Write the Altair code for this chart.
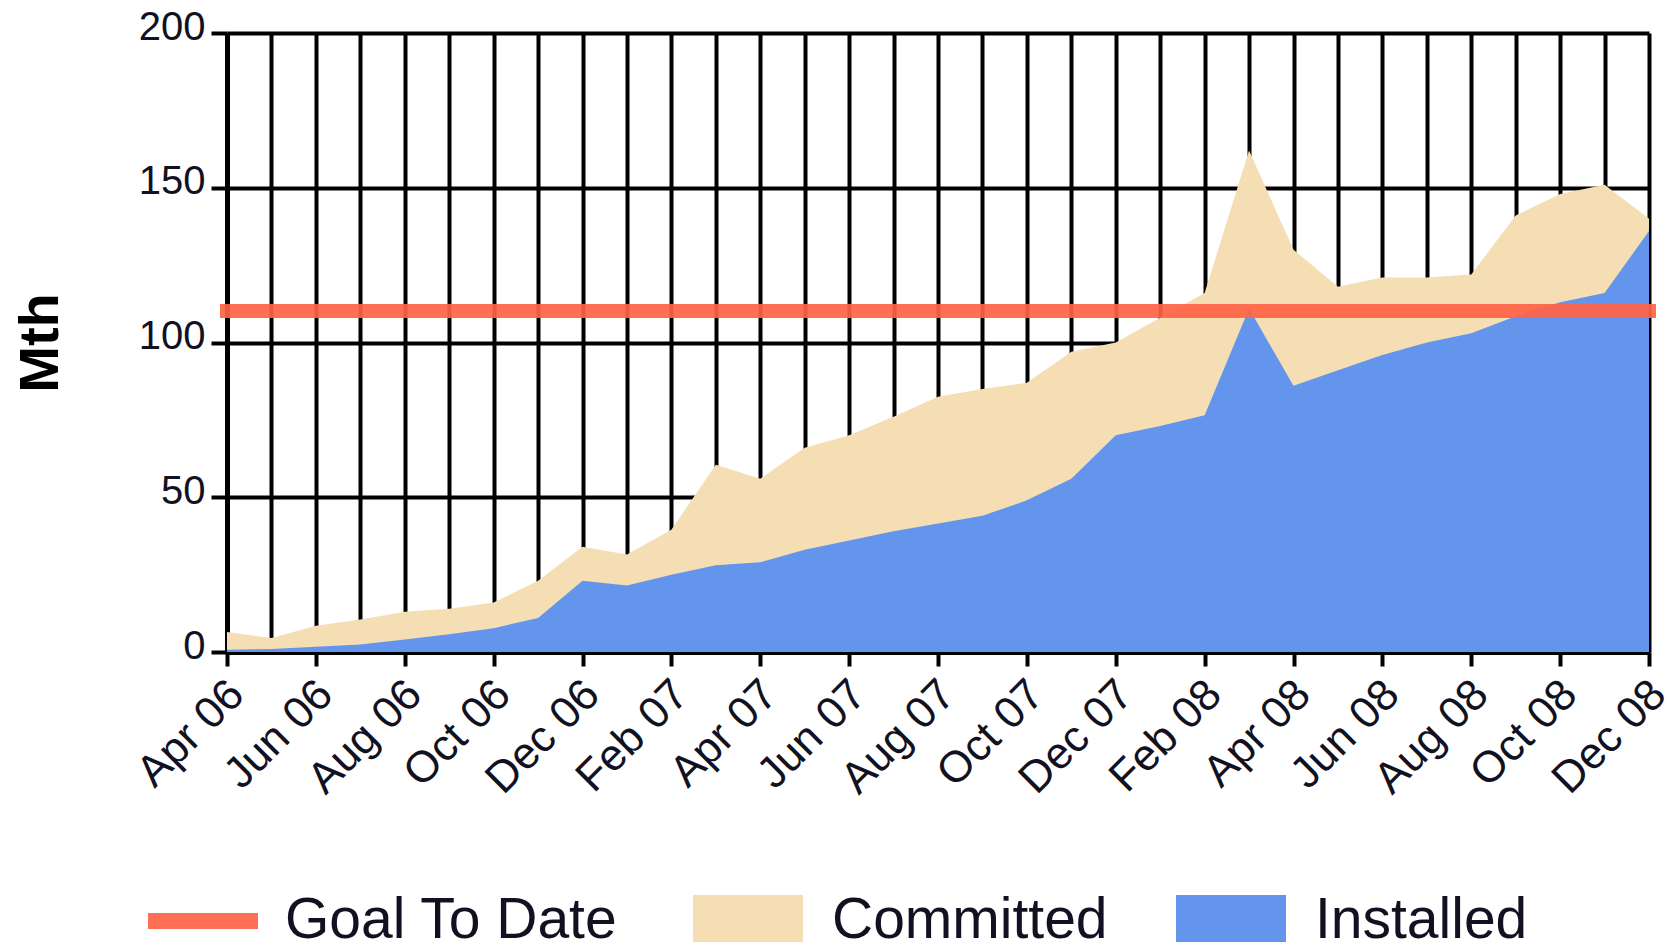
import json
import altair as alt
import pandas as pd

months = ["Apr 06", "May 06", "Jun 06", "Jul 06", "Aug 06", "Sep 06", "Oct 06", "Nov 06",
          "Dec 06", "Jan 07", "Feb 07", "Mar 07", "Apr 07", "May 07", "Jun 07", "Jul 07",
          "Aug 07", "Sep 07", "Oct 07", "Nov 07", "Dec 07", "Jan 08", "Feb 08", "Mar 08",
          "Apr 08", "May 08", "Jun 08", "Jul 08", "Aug 08", "Sep 08", "Oct 08", "Nov 08", "Dec 08"]
committed = [6.5, 4.5, 8.5, 10.5, 13, 14, 16, 23, 34, 31.5, 39.5, 60.5, 56, 66, 70, 76,
             82.5, 85, 87, 97, 100, 108, 116, 162, 130, 118, 121, 121, 122, 141, 148, 151, 140]
installed = [0.7, 1, 1.7, 2.4, 4, 5.7, 7.7, 11, 23, 21.5, 25, 28, 29, 33, 36, 39,
             41.5, 44, 49, 56, 70, 73, 76.5, 111, 86, 91, 96, 100, 103, 108.5, 113, 116, 136]
goal_value = [110.2]
labeled_months = months[::2]
area_series = ["Committed", "Installed"]
goal_series = ["Goal To Date"]
y_ticks = [0, 50, 100, 150, 200]

rows = []
for s, vals in zip(area_series, [committed, installed]):
    for m, v in zip(months, vals):
        rows.append({"month": m, "series": s, "value": v})
df = pd.DataFrame(rows)
goal_df = pd.DataFrame({"series": goal_series, "value": goal_value})

W, H = 1422, 619
FONT = "Liberation Sans"
label_test = "indexof(%s, datum.value) >= 0" % json.dumps(labeled_months)

x_axis = alt.Axis(
    title=None, grid=True, gridColor="black", gridWidth=4,
    labelExpr=f"{label_test} ? datum.value : ''",
    labelAngle=315, labelAlign="right", labelBaseline="top",
    labelFontSize=44, labelFont=FONT, labelColor="#111122", labelPadding=6, labelOffset=-6,
    labelOverlap=False, labelBound=False, labelFlush=False,
    tickSize=14, tickWidth=4, tickColor="black",
    tickOpacity={"condition": {"test": label_test, "value": 1}, "value": 0},
    domainColor="black", domainWidth=5,
)
y_axis = alt.Axis(
    values=y_ticks, title="Mth", titleFontSize=56, titleFont=FONT, titleFontWeight="bold",
    titleColor="black", titleX=-187, titleY=H / 2, titleAlign="center", titleBaseline="middle",
    grid=True, gridColor="black", gridWidth=4,
    labelFontSize=40, labelFont=FONT, labelColor="#111122", labelPadding=6, labelOffset=-6,
    tickSize=16, tickWidth=4, tickColor="black",
    domainColor="black", domainWidth=5,
)

x_enc = alt.X("month:O", sort=months,
              scale=alt.Scale(type="point", padding=0, domain=months), axis=x_axis)
y_enc = alt.Y("value:Q", stack=None,
              scale=alt.Scale(domain=[0, 200], nice=False, zero=True), axis=y_axis)

rect_path = "M-1,-0.4727L1,-0.4727L1,0.4727L-1,0.4727Z"
fill_scale = alt.Scale(domain=area_series, range=["#F5DEB3", "#6495ED"])
fill_legend = alt.Legend(
    title=None, orient="none", legendX=466, legendY=833, direction="horizontal",
    symbolType=rect_path, symbolSize=12100, symbolStrokeWidth=0, symbolOpacity=1,
    labelFontSize=57, labelFont=FONT, labelColor="#111122", labelOffset=29,
    columnPadding=68, labelLimit=600,
)
stroke_legend = alt.Legend(
    title=None, orient="none", legendX=-87, legendY=825, direction="horizontal",
    symbolType="stroke", symbolSize=12100, symbolStrokeWidth=16,
    labelFontSize=57, labelFont=FONT, labelColor="#111122", labelOffset=19, labelLimit=600,
)

committed_area = alt.Chart(df).transform_filter(
    alt.datum.series == "Committed"
).mark_area(opacity=1).encode(
    x=x_enc, y=y_enc,
    fill=alt.Fill("series:N", scale=fill_scale, legend=fill_legend),
)
installed_area = alt.Chart(df).transform_filter(
    alt.datum.series == "Installed"
).mark_area(opacity=1).encode(
    x=x_enc, y=y_enc,
    fill=alt.Fill("series:N", scale=fill_scale, legend=fill_legend),
)
goal_rule = alt.Chart(goal_df).mark_rule(strokeWidth=14, strokeCap="square", opacity=0.92).encode(
    y=alt.Y("value:Q"),
    stroke=alt.Stroke("series:N", scale=alt.Scale(domain=goal_series, range=["#FF6347"]),
                      legend=stroke_legend),
)

chart = alt.layer(committed_area, installed_area, goal_rule).properties(
    width=W, height=H,
    autosize=alt.AutoSizeParams(type="none"),
    padding={"left": 219, "top": 25, "right": 20, "bottom": 290},
    background="white",
).configure_view(strokeWidth=0)

chart.save("out.html", embed_options={"renderer": "svg", "actions": False})
